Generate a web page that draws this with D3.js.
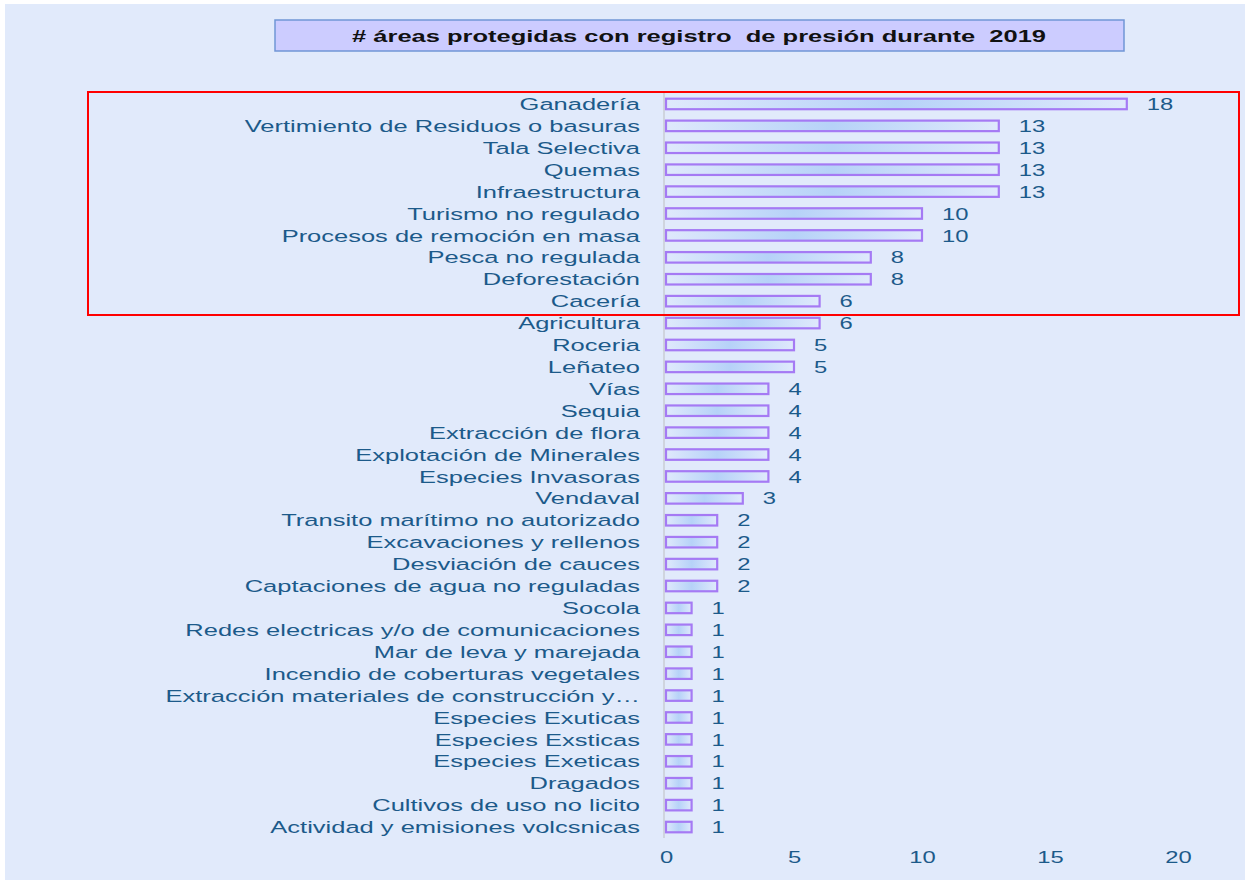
<!DOCTYPE html>
<html>
<head>
<meta charset="utf-8">
<script src="https://cdn.jsdelivr.net/npm/d3@7"></script>
<style>
  body { margin: 0; background: #ffffff; }
  svg { display: block; font-family: "Liberation Sans", Arial, sans-serif; }
</style>
</head>
<body>
<svg id="chart" width="1245" height="880"></svg>
<script>
// presiones, en orden de arriba a abajo
const categories = [
  "Ganadería", "Vertimiento de Residuos o basuras", "Tala Selectiva", "Quemas",
  "Infraestructura", "Turismo no regulado", "Procesos de remoción en masa",
  "Pesca no regulada", "Deforestación", "Cacería", "Agricultura", "Roceria",
  "Leñateo", "Vías", "Sequia", "Extracción de flora", "Explotación de Minerales",
  "Especies Invasoras", "Vendaval", "Transito marítimo no autorizado",
  "Excavaciones y rellenos", "Desviación de cauces", "Captaciones de agua no reguladas",
  "Socola", "Redes electricas y/o de comunicaciones", "Mar de leva y marejada",
  "Incendio de coberturas vegetales", "Extracción materiales de construcción y…",
  "Especies Exuticas", "Especies Exsticas", "Especies Exeticas", "Dragados",
  "Cultivos de uso no licito", "Actividad y emisiones volcsnicas"
];
const values = [18, 13, 13, 13, 13, 10, 10, 8, 8, 6, 6, 5, 5, 4, 4, 4, 4, 4, 3,
  2, 2, 2, 2, 1, 1, 1, 1, 1, 1, 1, 1, 1, 1, 1];
const xTicks = [0, 5, 10, 15, 20];
const title = "# áreas protegidas con registro  de presión durante  2019";

const svg = d3.select("#chart");
const textColor = "#1c5a8a";
const wide = 1.5;   // el texto del original sale estirado a lo ancho
const wideNum = 1.4;

svg.append("rect").attr("x", 5).attr("y", 4).attr("width", 1240).attr("height", 876)
  .attr("fill", "#e1eafb");

const defs = svg.append("defs");
const grad = defs.append("linearGradient").attr("id", "barFill")
  .attr("x1", "0%").attr("x2", "100%").attr("y1", "0%").attr("y2", "0%");
grad.append("stop").attr("offset", "0%").attr("stop-color", "#dfe9fc");
grad.append("stop").attr("offset", "50%").attr("stop-color", "#b6d2f8");
grad.append("stop").attr("offset", "100%").attr("stop-color", "#dfe9fc");

const x = d3.scaleLinear().domain([0, 20]).range([666, 1178]);
const y = d3.scaleBand().domain(categories).range([93, 838]).paddingInner(0.52).paddingOuter(0.26);
const cy = i => y(categories[i]) + y.bandwidth() / 2;

// linea del cero
svg.append("line").attr("x1", x(0) - 2).attr("x2", x(0) - 2)
  .attr("y1", 92).attr("y2", 838).attr("stroke", "#c9ccd4").attr("stroke-width", 1.5);

svg.append("g").selectAll("rect").data(values).join("rect")
  .attr("x", x(0))
  .attr("y", (d, i) => y(categories[i]))
  .attr("width", d => x(d) - x(0))
  .attr("height", y.bandwidth())
  .attr("fill", "url(#barFill)")
  .attr("stroke", "#a57af4")
  .attr("stroke-width", 2.2);

svg.append("g").selectAll("text").data(categories).join("text")
  .attr("transform", (d, i) => `translate(640,${cy(i)}) scale(${wide},1)`)
  .attr("dy", "0.36em")
  .attr("text-anchor", "end")
  .attr("font-size", 17)
  .attr("fill", textColor)
  .text(d => d);

svg.append("g").selectAll("text").data(values).join("text")
  .attr("transform", (d, i) => `translate(${x(d) + 20},${cy(i)}) scale(${wideNum},1)`)
  .attr("dy", "0.36em")
  .attr("font-size", 17)
  .attr("fill", textColor)
  .text(d => d);

const xAxis = d3.axisBottom(x).tickValues(xTicks).tickSize(0).tickPadding(0);
const gx = svg.append("g").attr("transform", "translate(0,851)").call(xAxis);
gx.select(".domain").remove();
gx.selectAll("text").attr("font-size", 17).attr("fill", textColor)
  .attr("font-family", "Liberation Sans, Arial, sans-serif")
  .attr("transform", `scale(${wideNum},1)`);

// titulo
svg.append("rect").attr("x", 275).attr("y", 20).attr("width", 849).attr("height", 31)
  .attr("fill", "#ccccff").attr("stroke", "#7096d6").attr("stroke-width", 1.5);
svg.append("text").attr("transform", `translate(699,36) scale(${wide},1)`).attr("dy", "0.36em")
  .attr("text-anchor", "middle").attr("font-size", 17).attr("font-weight", "bold")
  .attr("fill", "#111").style("white-space", "pre").text(title);

// recuadro rojo
svg.append("rect").attr("x", 88).attr("y", 92).attr("width", 1151).attr("height", 223)
  .attr("fill", "none").attr("stroke", "#ff0000").attr("stroke-width", 2);
</script>
</body>
</html>
